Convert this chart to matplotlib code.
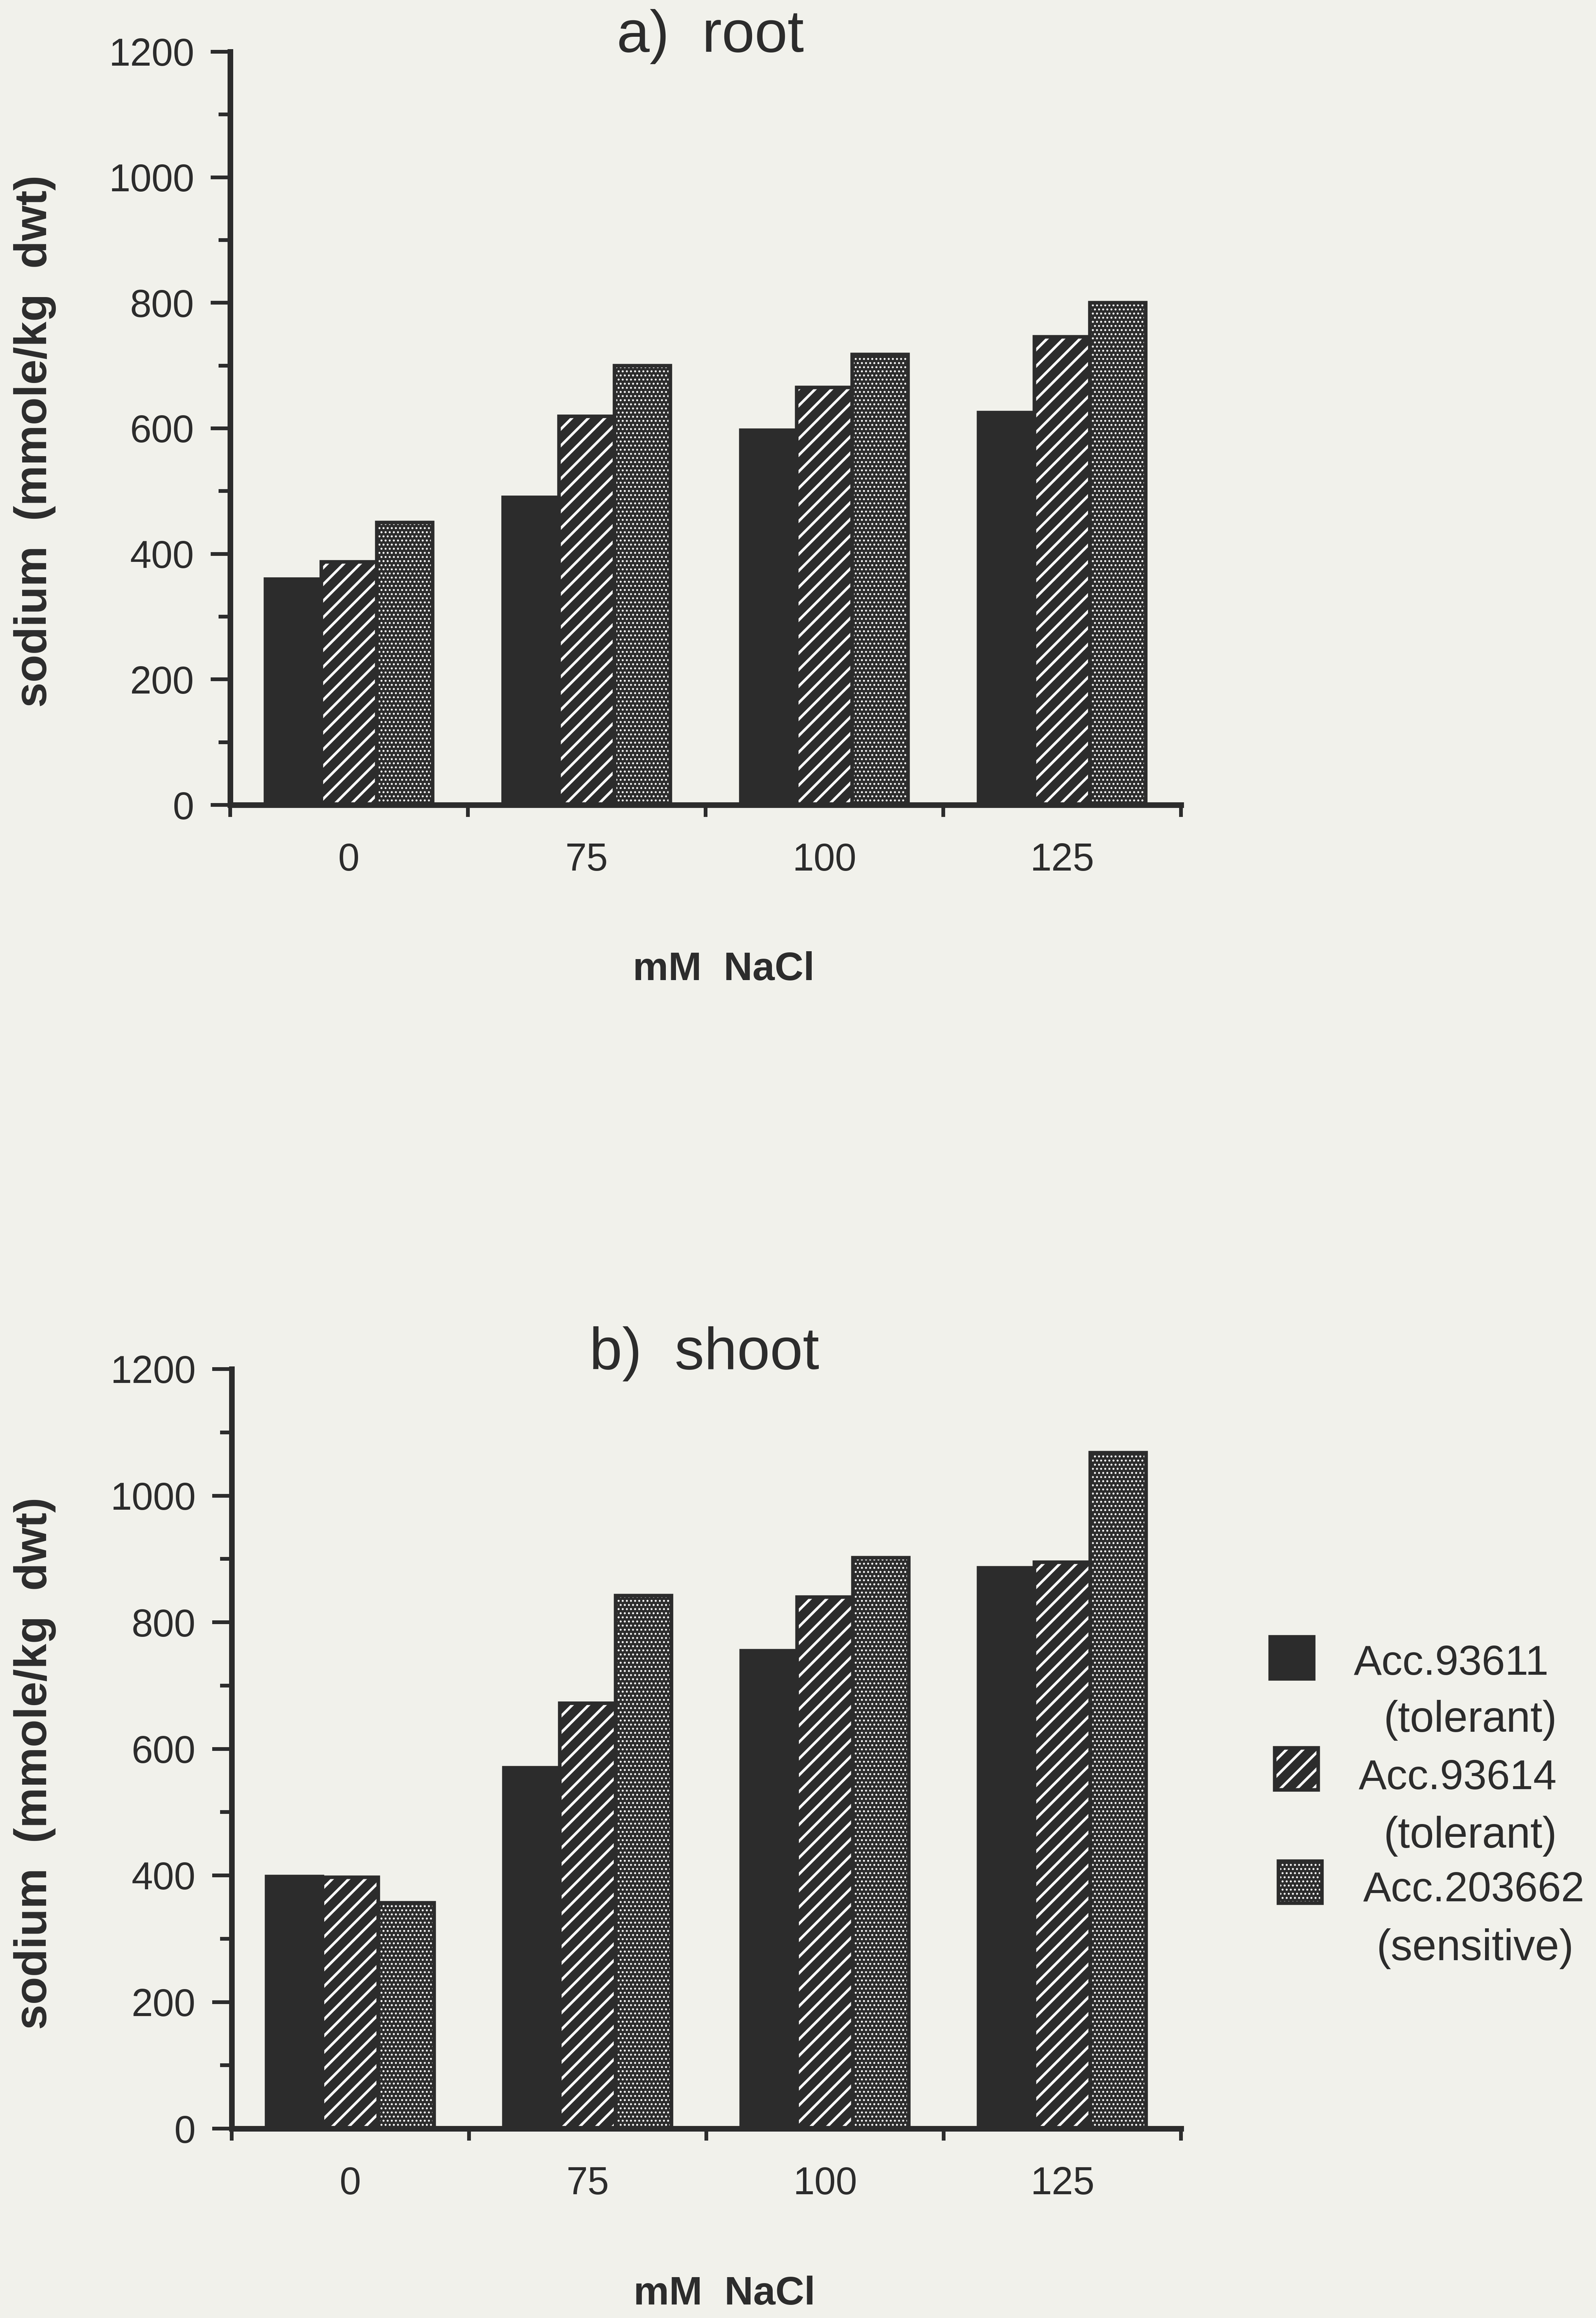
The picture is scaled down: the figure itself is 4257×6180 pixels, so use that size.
import numpy as np
import matplotlib
matplotlib.use("Agg")
import matplotlib.pyplot as plt
from matplotlib.patches import Rectangle

# ---- data -------------------------------------------------------------
nacl_levels = ["0", "75", "100", "125"]
accessions = ["Acc.93611", "Acc.93614", "Acc.203662"]
tolerance = ["(tolerant)", "(tolerant)", "(sensitive)"]

# sodium content, mmole/kg dry weight
root_93611 = [360, 490, 597, 625]
root_93614 = [387, 619, 665, 746]
root_203662 = [450, 700, 718, 800]

shoot_93611 = [398, 570, 755, 886]
shoot_93614 = [397, 672, 840, 895]
shoot_203662 = [357, 842, 902, 1068]

# ---- styling ----------------------------------------------------------
W, H, DPI = 4257, 6180, 264
PPT = DPI / 72.0                      # pixels per point
INK = "#2c2c2c"
PAPER = "#f1f1eb"

plt.rcParams["font.family"] = ["Liberation Sans", "DejaVu Sans"]
plt.rcParams["text.color"] = INK
plt.rcParams["axes.labelcolor"] = INK
plt.rcParams["xtick.color"] = INK
plt.rcParams["ytick.color"] = INK

STYLES = [
    dict(hatch=None, hlw=1.0),
    dict(hatch="//", hlw=1.9),
    dict(hatch="....", hlw=0.85),
]

fig = plt.figure(figsize=(W / DPI, H / DPI), dpi=DPI, facecolor=PAPER)


def px_axes(left, top, right, bottom):
    return fig.add_axes([left / W, 1 - bottom / H, (right - left) / W, (bottom - top) / H])


def patterned_bar(ax, pos, vals, width, st):
    with plt.rc_context({"hatch.linewidth": st["hlw"]}):
        layer = ax.bar(pos, vals, width, color=INK,
                       edgecolor="white" if st["hatch"] else INK,
                       hatch=st["hatch"], linewidth=0, zorder=2)
    for p in layer.patches:
        if hasattr(p, "set_hatch_linewidth"):
            p.set_hatch_linewidth(st["hlw"])
    ax.bar(pos, vals, width, fill=False, edgecolor=INK, linewidth=2.6, zorder=3)


def draw_panel(ax, series, title, title_x, xlabel_y, ylabel_y):
    ax.set_facecolor("none")
    x = np.arange(len(nacl_levels))
    width = 0.235
    for i, (vals, st) in enumerate(zip(series, STYLES)):
        patterned_bar(ax, x + (i - 1) * width, vals, width, st)

    ax.set_xlim(-0.5, len(nacl_levels) - 0.5)
    ax.set_ylim(0, 1200)
    for s in ("top", "right"):
        ax.spines[s].set_visible(False)
    for s in ("left", "bottom"):
        ax.spines[s].set_linewidth(15 / PPT)
        ax.spines[s].set_color(INK)
        ax.spines[s].set_capstyle("projecting")

    # y axis: labelled every 200, minor marks every 100
    ax.set_yticks(np.arange(0, 1201, 200))
    ax.set_yticks(np.arange(100, 1200, 200), minor=True)
    ax.tick_params(axis="y", which="major", direction="out", length=52 / PPT,
                   width=10 / PPT, pad=44 / PPT, labelsize=28)
    ax.tick_params(axis="y", which="minor", direction="out", length=31 / PPT,
                   width=10 / PPT)

    # x axis: tick marks between groups, labels under group centres
    ax.set_xticks(np.arange(-0.5, len(nacl_levels), 1.0))
    ax.set_xticklabels([])
    ax.set_xticks(x, minor=True)
    ax.set_xticklabels(nacl_levels, minor=True)
    ax.tick_params(axis="x", which="major", direction="out", length=32 / PPT,
                   width=10 / PPT)
    ax.tick_params(axis="x", which="minor", length=0, pad=100 / PPT, labelsize=28)

    ax.text(title_x, 1.0, title, transform=ax.transAxes, ha="center",
            va="baseline", fontsize=43)

    ax.set_xlabel("mM  NaCl", fontsize=29, fontweight="bold", va="center")
    ax.xaxis.set_label_coords(0.519, xlabel_y)
    ax.set_ylabel("sodium  (mmole/kg  dwt)", fontsize=33, fontweight="bold",
                  va="center", ha="center")
    ax.yaxis.set_label_coords(ylabel_y[0], ylabel_y[1])


ax_root = px_axes(614, 138, 3150, 2146)
draw_panel(ax_root, [root_93611, root_93614, root_203662], "a)  root",
           0.505, -0.219, (-(614 - 93) / 2536, 0.483))

ax_shoot = px_axes(618, 3650, 3150, 5675)
draw_panel(ax_shoot, [shoot_93611, shoot_93614, shoot_203662], "b)  shoot",
           0.498, -0.218, (-(618 - 93) / 2532, 0.481))

# ---- key --------------------------------------------------------------
key_boxes = [(3388, 4364), (3400, 4660), (3410, 4962)]
key_name_xy = [(3611, 4465), (3624, 4770), (3636, 5069)]
key_note_xy = [(3691, 4617), (3691, 4926), (3672, 5226)]
box_w, box_h = 116, 112

for (bx, by), st in zip(key_boxes, STYLES):
    with plt.rc_context({"hatch.linewidth": st["hlw"]}):
        r = Rectangle((bx / W, 1 - (by + box_h) / H), box_w / W, box_h / H,
                      transform=fig.transFigure, facecolor=INK,
                      edgecolor="white" if st["hatch"] else INK,
                      hatch=st["hatch"], linewidth=0)
    if hasattr(r, "set_hatch_linewidth"):
        r.set_hatch_linewidth(st["hlw"])
    fig.add_artist(r)
    fig.add_artist(Rectangle((bx / W, 1 - (by + box_h) / H), box_w / W, box_h / H,
                             transform=fig.transFigure, fill=False,
                             edgecolor=INK, linewidth=2.6))

for name, note, (nx, ny), (tx, ty) in zip(accessions, tolerance, key_name_xy, key_note_xy):
    fig.text(nx / W, 1 - ny / H, name, fontsize=30.5, ha="left", va="baseline")
    fig.text(tx / W, 1 - ty / H, note, fontsize=31.5, ha="left", va="baseline")

fig.savefig("out.png", dpi=DPI, facecolor=PAPER)
